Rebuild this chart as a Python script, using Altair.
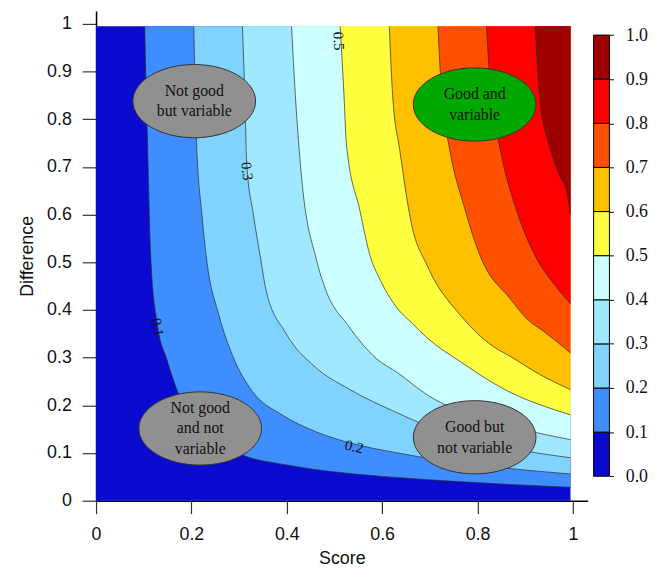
import altair as alt
import pandas as pd

# ---- contour levels and band colours ----
levels = [0.1, 0.2, 0.3, 0.4, 0.5, 0.6, 0.7, 0.8, 0.9]
band_lo = [0.0, 0.1, 0.2, 0.3, 0.4, 0.5, 0.6, 0.7, 0.8, 0.9]
band_hi = [0.1, 0.2, 0.3, 0.4, 0.5, 0.6, 0.7, 0.8, 0.9, 1.0]
band_colors = ["#0B0BCF", "#3F8EFF", "#80D2FF", "#A0E8FF", "#CCFFFF",
               "#FFFF40", "#FFC000", "#FF5000", "#FF0000", "#A00000"]
fill_max = 0.995

# ---- contour lines (Score, Difference) ----
c01_x = [0.102, 0.108, 0.115, 0.129, 0.148, 0.171, 0.200, 0.250, 0.306, 0.400, 0.494, 0.600, 0.760, 0.995]
c01_y = [0.995, 0.750, 0.506, 0.367, 0.298, 0.229, 0.172, 0.125, 0.096, 0.075, 0.061, 0.051, 0.040, 0.028]
c02_x = [0.205, 0.210, 0.222, 0.232, 0.258, 0.286, 0.328, 0.390, 0.460, 0.522, 0.633, 0.800, 0.995]
c02_y = [0.995, 0.770, 0.600, 0.506, 0.388, 0.305, 0.229, 0.180, 0.145, 0.124, 0.100, 0.075, 0.056]
c03_x = [0.307, 0.312, 0.316, 0.330, 0.344, 0.356, 0.397, 0.460, 0.529, 0.630, 0.700, 0.820, 0.995]
c03_y = [0.995, 0.850, 0.708, 0.600, 0.515, 0.444, 0.353, 0.280, 0.235, 0.185, 0.155, 0.120, 0.090]
c04_x = [0.410, 0.418, 0.431, 0.462, 0.481, 0.529, 0.588, 0.633, 0.696, 0.800, 0.900, 0.995]
c04_y = [0.995, 0.850, 0.679, 0.506, 0.444, 0.367, 0.298, 0.268, 0.221, 0.175, 0.148, 0.128]
c05_x = [0.512, 0.520, 0.525, 0.553, 0.577, 0.592, 0.633, 0.661, 0.696, 0.765, 0.850, 0.995]
c05_y = [0.995, 0.850, 0.749, 0.610, 0.506, 0.471, 0.402, 0.374, 0.340, 0.291, 0.237, 0.180]
c06_x = [0.615, 0.622, 0.637, 0.661, 0.696, 0.765, 0.835, 0.870, 0.930, 0.995]
c06_y = [0.995, 0.850, 0.735, 0.583, 0.490, 0.388, 0.322, 0.302, 0.265, 0.233]
c07_x = [0.717, 0.725, 0.741, 0.772, 0.807, 0.869, 0.904, 0.939, 0.995]
c07_y = [0.995, 0.850, 0.740, 0.617, 0.510, 0.423, 0.381, 0.355, 0.310]
c08_x = [0.819, 0.828, 0.847, 0.885, 0.925, 0.960, 0.995]
c08_y = [0.995, 0.850, 0.740, 0.600, 0.506, 0.455, 0.413]
c09_x = [0.921, 0.930, 0.952, 0.973, 0.988, 0.995]
c09_y = [0.995, 0.850, 0.740, 0.680, 0.645, 0.600]

contour_x = [c01_x, c02_x, c03_x, c04_x, c05_x, c06_x, c07_x, c08_x, c09_x]
contour_y = [c01_y, c02_y, c03_y, c04_y, c05_y, c06_y, c07_y, c08_y, c09_y]

# ---- contour labels ----
clab_text = ["0.5", "0.3", "0.1", "0.2"]
clab_x = [0.509, 0.317, 0.129, 0.5415]
clab_y = [0.964, 0.691, 0.364, 0.1135]
clab_angle = [87, 84, 80, 13]

# ---- annotation ellipses ----
ell_text = ["Not good\nbut variable", "Good and\nvariable",
            "Not good\nand not\nvariable", "Good but\nnot variable"]
ell_x = [0.206, 0.794, 0.2185, 0.794]
ell_y = [0.838, 0.831, 0.1515, 0.133]
ell_fill = ["#909090", "#00A800", "#909090", "#909090"]

# ---- axes ----
x_ticks = [0, 0.2, 0.4, 0.6, 0.8, 1]
y_ticks = [0, 0.1, 0.2, 0.3, 0.4, 0.5, 0.6, 0.7, 0.8, 0.9, 1]
cbar_ticks = [0.0, 0.1, 0.2, 0.3, 0.4, 0.5, 0.6, 0.7, 0.8, 0.9, 1.0]

SANS = "Liberation Sans"
SERIF = "Liberation Serif"
LINE_H = 21

XS = alt.Scale(domain=[0, 1.031], nice=False, zero=False)
YS = alt.Scale(domain=[0, 1.027], nice=False, zero=False)

x_axis = alt.Axis(values=x_ticks, format="~g", title="Score", grid=False,
                  tickSize=13, labelPadding=12, titlePadding=7,
                  domainColor="black", domainWidth=1.5, tickColor="#333", tickWidth=1.2,
                  labelFont=SANS, labelFontSize=18, labelColor="#111",
                  titleFont=SANS, titleFontSize=18, titleFontWeight="normal", titleColor="#111",
                  labelFlush=False, labelOverlap=False)
y_axis = alt.Axis(values=y_ticks, format="~g", title="Difference", grid=False,
                  tickSize=14, labelPadding=11, titlePadding=10,
                  domainColor="black", domainWidth=1.5, tickColor="#333", tickWidth=1.2,
                  labelFont=SANS, labelFontSize=18, labelColor="#111",
                  titleFont=SANS, titleFontSize=18, titleFontWeight="normal", titleColor="#111",
                  labelFlush=False, labelOverlap=False)

xe = alt.X("x:Q", scale=XS, axis=x_axis)
ye = alt.Y("y:Q", scale=YS, axis=y_axis)

layers = []

bg_df = pd.DataFrame({"x": [0.0], "x2": [fill_max], "y": [0.0], "y2": [fill_max]})
layers.append(alt.Chart(bg_df).mark_rect(color=band_colors[0]).encode(
    x=xe, x2="x2:Q", y=ye, y2="y2:Q"))

for k in range(len(levels)):
    df = pd.DataFrame({"x": contour_x[k], "y": contour_y[k],
                       "top": [fill_max] * len(contour_x[k])})
    layers.append(alt.Chart(df).mark_area(color=band_colors[k + 1], orient="vertical",
                                          interpolate="monotone").encode(
        x=xe, y=ye, y2="top:Q"))

for k in range(len(levels)):
    df = pd.DataFrame({"x": contour_x[k], "y": contour_y[k], "i": list(range(len(contour_x[k])))})
    layers.append(alt.Chart(df).mark_line(color="#2a2a2a", strokeWidth=0.7,
                                          interpolate="monotone").encode(
        x=xe, y=ye, order="i:Q"))

for t, lx, ly, a in zip(clab_text, clab_x, clab_y, clab_angle):
    df = pd.DataFrame({"x": [lx], "y": [ly], "t": [t]})
    layers.append(alt.Chart(df).mark_text(font=SERIF, fontSize=15, angle=a,
                                          baseline="middle", align="center", color="#111").encode(
        x=xe, y=ye, text="t:N"))

ELLIPSE = ("M -1 0 C -1 -0.33 -0.5523 -0.597 0 -0.597 C 0.5523 -0.597 1 -0.33 1 0 "
           "C 1 0.33 0.5523 0.597 0 0.597 C -0.5523 0.597 -1 0.33 -1 0 Z")
ell_df = pd.DataFrame({"x": ell_x, "y": ell_y, "t": ell_text, "f": ell_fill})
layers.append(alt.Chart(ell_df).mark_point(shape=ELLIPSE, size=15376, filled=True, opacity=1,
                                           stroke="#333", strokeWidth=1).encode(
    x=xe, y=ye, fill=alt.Fill("f:N", scale=None)))
for t, ex, ey in zip(ell_text, ell_x, ell_y):
    n = t.count("\n") + 1
    df = pd.DataFrame({"x": [ex], "y": [ey], "t": [t]})
    layers.append(alt.Chart(df).mark_text(font=SERIF, fontSize=16, lineHeight=LINE_H, lineBreak="\n",
                                          baseline="middle", align="center", color="#111",
                                          dy=-(n - 1) * LINE_H / 2).encode(
        x=xe, y=ye, text="t:N"))

main = alt.layer(*layers).properties(width=497, height=495)

# ---- colour bar ----
cb_df = pd.DataFrame({"lo": band_lo, "hi": band_hi, "c": band_colors,
                      "x0": [0.0] * 10, "x1": [1.0] * 10})
cbar = alt.Chart(cb_df).mark_rect(stroke="black", strokeWidth=1).encode(
    x=alt.X("x0:Q", scale=alt.Scale(domain=[0, 1], nice=False), axis=None),
    x2="x1:Q",
    y=alt.Y("lo:Q", scale=alt.Scale(domain=[-0.0554, 1.0545], nice=False, zero=False),
            axis=alt.Axis(orient="right", values=cbar_ticks, format=".1f", title=None,
                          domain=False, grid=False, tickSize=4, tickColor="black",
                          labelPadding=12, labelFont=SERIF, labelFontSize=18,
                          labelColor="#111", labelOverlap=False, labelFlush=False)),
    y2="hi:Q",
    fill=alt.Fill("c:N", scale=None),
).properties(width=16, height=495)

chart = alt.hconcat(main, cbar, spacing=5).properties(
    padding={"left": 10, "top": 0, "right": 0, "bottom": 0}
).configure_view(stroke=None)

chart.save("out.html", embed_options={"renderer": "svg", "actions": False})
